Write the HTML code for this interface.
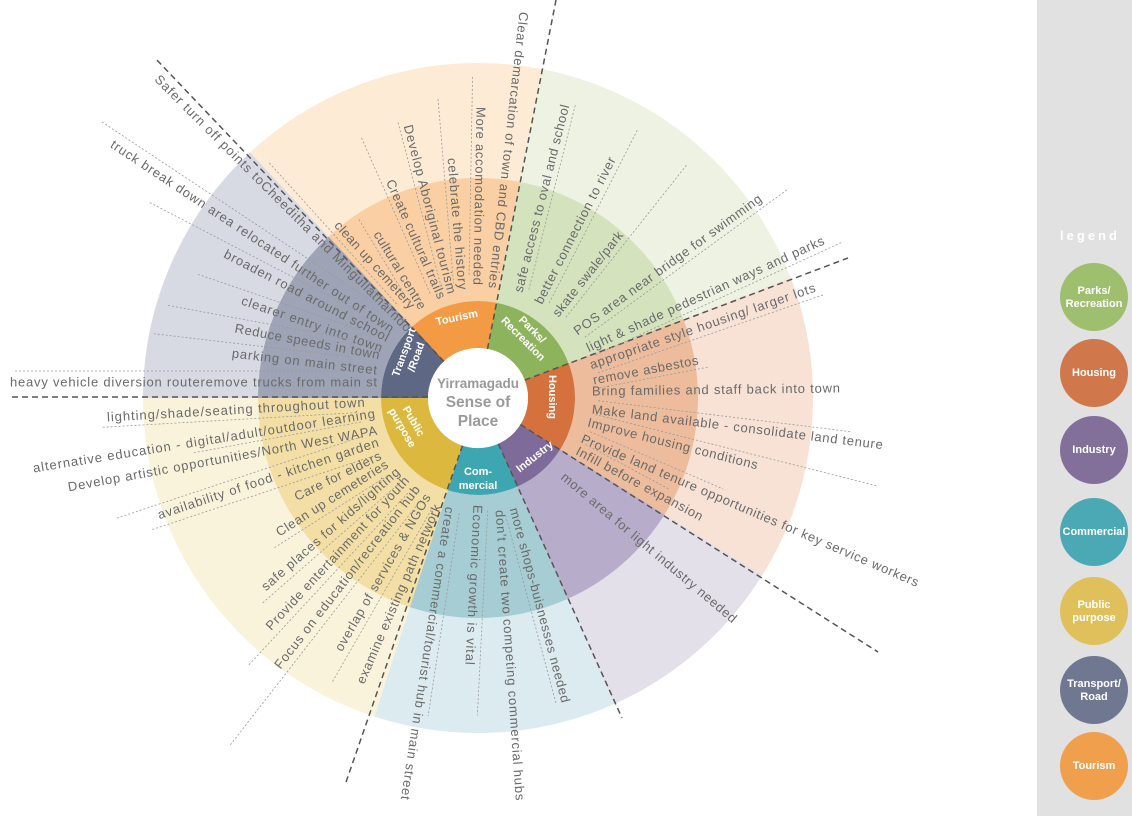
<!DOCTYPE html>
<html><head><meta charset="utf-8"><style>
html,body{margin:0;padding:0;background:#fff;}
svg{display:block;}
.t{font-family:"Liberation Sans",sans-serif;font-size:13px;fill:#6a6a6a;dominant-baseline:central;}
.c{font-family:"Liberation Sans",sans-serif;font-size:11px;font-weight:bold;fill:#fff;text-anchor:middle;dominant-baseline:central;}
.lg{font-family:"Liberation Sans",sans-serif;font-size:11px;font-weight:bold;fill:#fff;text-anchor:middle;dominant-baseline:central;}
.d{stroke:#9a9a9a;stroke-width:0.8;stroke-dasharray:2 2;fill:none;}
</style></head><body>
<svg width="1132" height="816" viewBox="0 0 1132 816" xmlns="http://www.w3.org/2000/svg">
<rect x="1037" y="0" width="95" height="816" fill="#e1e1e1"/>
<g fill="none">
<circle cx="478" cy="398" r="277.5" stroke="#fdebd6" stroke-width="115" stroke-dasharray="262 3000" transform="rotate(227 478 398)"/>
<circle cx="478" cy="398" r="277.5" stroke="#edf2e2" stroke-width="115" stroke-dasharray="281.5 3000" transform="rotate(-79 478 398)"/>
<circle cx="478" cy="398" r="277.5" stroke="#f7e2d5" stroke-width="115" stroke-dasharray="257.2 3000" transform="rotate(-21 478 398)"/>
<circle cx="478" cy="398" r="277.5" stroke="#e3e0ea" stroke-width="115" stroke-dasharray="165.2 3000" transform="rotate(32 478 398)"/>
<circle cx="478" cy="398" r="277.5" stroke="#dcebf0" stroke-width="115" stroke-dasharray="204 3000" transform="rotate(66 478 398)"/>
<circle cx="478" cy="398" r="277.5" stroke="#faf3dc" stroke-width="115" stroke-dasharray="349.2 3000" transform="rotate(108 478 398)"/>
<circle cx="478" cy="398" r="277.5" stroke="#d7dae3" stroke-width="115" stroke-dasharray="228.2 3000" transform="rotate(180 478 398)"/>
<circle cx="478" cy="398" r="158.5" stroke="#f9cfa3" stroke-width="123" stroke-dasharray="149.9 3000" transform="rotate(227 478 398)"/>
<circle cx="478" cy="398" r="158.5" stroke="#d5e2be" stroke-width="123" stroke-dasharray="161 3000" transform="rotate(-79 478 398)"/>
<circle cx="478" cy="398" r="158.5" stroke="#ecbc9d" stroke-width="123" stroke-dasharray="147.1 3000" transform="rotate(-21 478 398)"/>
<circle cx="478" cy="398" r="158.5" stroke="#b7adcb" stroke-width="123" stroke-dasharray="94.6 3000" transform="rotate(32 478 398)"/>
<circle cx="478" cy="398" r="158.5" stroke="#a6cdd3" stroke-width="123" stroke-dasharray="116.7 3000" transform="rotate(66 478 398)"/>
<circle cx="478" cy="398" r="158.5" stroke="#f3dfa5" stroke-width="123" stroke-dasharray="199.7 3000" transform="rotate(108 478 398)"/>
<circle cx="478" cy="398" r="158.5" stroke="#9ea3b6" stroke-width="123" stroke-dasharray="130.5 3000" transform="rotate(180 478 398)"/>
<circle cx="478" cy="398" r="73.5" stroke="#f39a45" stroke-width="47" stroke-dasharray="69.8 3000" transform="rotate(227 478 398)"/>
<circle cx="478" cy="398" r="73.5" stroke="#8db45c" stroke-width="47" stroke-dasharray="74.9 3000" transform="rotate(-79 478 398)"/>
<circle cx="478" cy="398" r="73.5" stroke="#d4713c" stroke-width="47" stroke-dasharray="68.5 3000" transform="rotate(-21 478 398)"/>
<circle cx="478" cy="398" r="73.5" stroke="#7e6b99" stroke-width="47" stroke-dasharray="44.1 3000" transform="rotate(32 478 398)"/>
<circle cx="478" cy="398" r="73.5" stroke="#3ea6b1" stroke-width="47" stroke-dasharray="54.4 3000" transform="rotate(66 478 398)"/>
<circle cx="478" cy="398" r="73.5" stroke="#ddb83e" stroke-width="47" stroke-dasharray="92.9 3000" transform="rotate(108 478 398)"/>
<circle cx="478" cy="398" r="73.5" stroke="#5e6784" stroke-width="47" stroke-dasharray="60.8 3000" transform="rotate(180 478 398)"/>
</g>
<circle cx="478" cy="398" r="50" fill="#fff"/>
<g stroke="#555" stroke-width="1.5" stroke-dasharray="6 4" fill="none">
<line x1="487.5" y1="349" x2="556" y2="0"/>
<line x1="524.7" y1="380.1" x2="848" y2="258"/>
<line x1="520.4" y1="424.5" x2="878" y2="652"/>
<line x1="498.3" y1="443.7" x2="622" y2="718"/>
<line x1="462.5" y1="445.6" x2="345" y2="785"/>
<line x1="428" y1="397" x2="8" y2="397"/>
<line x1="443.9" y1="361.4" x2="155" y2="58"/>
</g>
<g font-family="Liberation Sans, sans-serif" font-weight="bold" fill="#9a9a9a" text-anchor="middle">
<text x="478" y="388" font-size="13.5">Yirramagadu</text>
<text x="478" y="407" font-size="15.5">Sense of</text>
<text x="478" y="426" font-size="15.5">Place</text>
</g>
<text class="c" transform="translate(457,318) rotate(-12)">Tourism</text>
<text class="c" transform="translate(527,335) rotate(45)"><tspan x="0" dy="-7">Parks/</tspan><tspan x="0" dy="13">Recreation</tspan></text>
<text class="c" transform="translate(552,397) rotate(90)">Housing</text>
<text class="c" transform="translate(535,457) rotate(-38)">Industry</text>
<text class="c" transform="translate(478,479)"><tspan x="0" dy="-7">Com-</tspan><tspan x="0" dy="14">mercial</tspan></text>
<text class="c" transform="translate(407,425) rotate(60)"><tspan x="0" dy="-7">Public</tspan><tspan x="0" dy="13">purpose</tspan></text>
<text class="c" transform="translate(411,355) rotate(-70)"><tspan x="0" dy="-7">Transport</tspan><tspan x="0" dy="13">/Road</tspan></text>
<!-- Transport -->
<g transform="translate(157,77) rotate(45)"><text class="t" textLength="357" lengthAdjust="spacing">Safer turn off points toCheeditha and Mingullatharndo</text></g>
<g transform="translate(112,143) rotate(33.6)"><line class="d" x1="-20" y1="-12" x2="300" y2="-12"/><text class="t" textLength="337" lengthAdjust="spacing">truck break down area relocated further out of town</text></g>
<g transform="translate(225,253) rotate(27.5)"><line class="d" x1="-90" y1="-10" x2="150" y2="-10"/><text class="t" textLength="184" lengthAdjust="spacing">broaden road around school</text></g>
<g transform="translate(242,300) rotate(18.9)"><line class="d" x1="-50" y1="-10" x2="120" y2="-10"/><text class="t" textLength="148" lengthAdjust="spacing">clearer entry into town</text></g>
<g transform="translate(235,328) rotate(10.5)"><line class="d" x1="-70" y1="-10" x2="120" y2="-10"/><text class="t" textLength="147" lengthAdjust="spacing">Reduce speeds in town</text></g>
<g transform="translate(232,353) rotate(6.7)"><line class="d" x1="-80" y1="-10" x2="120" y2="-10"/><text class="t" textLength="146" lengthAdjust="spacing">parking on main street</text></g>
<g transform="translate(10,382)"><line class="d" x1="5" y1="-11" x2="340" y2="-11"/><text class="t" textLength="367" lengthAdjust="spacing">heavy vehicle diversion routeremove trucks from main st</text></g>
<!-- Tourism -->
<g transform="translate(337,223) rotate(47.9)"><line class="d" x1="-90" y1="10" x2="100" y2="10"/><text class="t" textLength="113" lengthAdjust="spacing">clean up cemetery</text></g>
<g transform="translate(377,232) rotate(58.8)"><line class="d" x1="-20" y1="9" x2="80" y2="9"/><text class="t" textLength="89" lengthAdjust="spacing">cultural centre</text></g>
<g transform="translate(390,180) rotate(66.2)"><line class="d" x1="-50" y1="9" x2="120" y2="9"/><text class="t" textLength="129" lengthAdjust="spacing">Create cultural trails</text></g>
<g transform="translate(408,125) rotate(75.3)"><line class="d" x1="-5" y1="9" x2="165" y2="9"/><text class="t" textLength="174" lengthAdjust="spacing">Develop Aboriginal tourism</text></g>
<g transform="translate(452,158) rotate(85.2)"><line class="d" x1="-60" y1="9" x2="125" y2="9"/><text class="t" textLength="132" lengthAdjust="spacing">celebrate the history</text></g>
<g transform="translate(481,107) rotate(91)"><line class="d" x1="-30" y1="9" x2="170" y2="9"/><text class="t" textLength="178" lengthAdjust="spacing">More accomodation needed</text></g>
<g transform="translate(524,12) rotate(96.4)"><text class="t" textLength="278" lengthAdjust="spacing">Clear demarcation of town and CBD entries</text></g>
<!-- Parks -->
<g transform="translate(518,292) rotate(-75.9)"><line class="d" x1="5" y1="10" x2="195" y2="10"/><text class="t" textLength="193" lengthAdjust="spacing">safe access to oval and school</text></g>
<g transform="translate(538,303) rotate(-63)"><line class="d" x1="5" y1="10" x2="200" y2="10"/><text class="t" textLength="163" lengthAdjust="spacing">better connection to river</text></g>
<g transform="translate(555,315) rotate(-51.6)"><line class="d" x1="5" y1="10" x2="200" y2="10"/><text class="t" textLength="105" lengthAdjust="spacing">skate swale/park</text></g>
<g transform="translate(575,332) rotate(-36.1)"><line class="d" x1="5" y1="10" x2="255" y2="10"/><text class="t" textLength="229" lengthAdjust="spacing">POS area near bridge for swimming</text></g>
<g transform="translate(587,348) rotate(-24.6)"><line class="d" x1="5" y1="10" x2="275" y2="10"/><text class="t" textLength="260" lengthAdjust="spacing">light &amp; shade pedestrian ways and parks</text></g>
<!-- Housing -->
<g transform="translate(590,365) rotate(-19.1)"><line class="d" x1="5" y1="10" x2="245" y2="10"/><text class="t" textLength="238" lengthAdjust="spacing">appropriate style housing/ larger lots</text></g>
<g transform="translate(593,380) rotate(-10.8)"><line class="d" x1="5" y1="9" x2="115" y2="9"/><text class="t" textLength="107" lengthAdjust="spacing">remove asbestos</text></g>
<g transform="translate(592,391) rotate(-0.7)"><text class="t" textLength="248" lengthAdjust="spacing">Bring families and staff back into town</text></g>
<g transform="translate(592,409) rotate(7)"><line class="d" x1="5" y1="-9" x2="260" y2="-9"/><text class="t" textLength="293" lengthAdjust="spacing">Make land available - consolidate land tenure</text></g>
<g transform="translate(588,422) rotate(14.2)"><line class="d" x1="5" y1="-9" x2="295" y2="-9"/><text class="t" textLength="175" lengthAdjust="spacing">Improve housing conditions</text></g>
<g transform="translate(582,438) rotate(23.3)"><line class="d" x1="5" y1="-9" x2="150" y2="-9"/><text class="t" textLength="366" lengthAdjust="spacing">Provide land tenure opportunities for key service workers</text></g>
<g transform="translate(577,450) rotate(28.2)"><line class="d" x1="5" y1="-9" x2="100" y2="-9"/><text class="t" textLength="142" lengthAdjust="spacing">Infill before expansion</text></g>
<!-- Industry -->
<g transform="translate(563,475) rotate(40.1)"><text class="t" textLength="225" lengthAdjust="spacing">more area for light industry needed</text></g>
<!-- Commercial -->
<g transform="translate(514,508) rotate(75)"><line class="d" x1="5" y1="10" x2="200" y2="10"/><text class="t" textLength="201" lengthAdjust="spacing">more shops-buisnesses needed</text></g>
<g transform="translate(500,510) rotate(86)"><text class="t" textLength="291" lengthAdjust="spacing">don't create two competing commercial hubs</text></g>
<g transform="translate(478,505) rotate(92.9)"><line class="d" x1="5" y1="-10" x2="210" y2="-10"/><text class="t" textLength="160" lengthAdjust="spacing">Economic growth is vital</text></g>
<g transform="translate(450,507) rotate(98.7)"><line class="d" x1="5" y1="-10" x2="210" y2="-10"/><text class="t" textLength="296" lengthAdjust="spacing">create a commercial/tourist hub in main street</text></g>
<!-- Public purpose -->
<g transform="translate(107,417) rotate(-3.3)"><line class="d" x1="-5" y1="10" x2="250" y2="10"/><text class="t" textLength="258" lengthAdjust="spacing">lighting/shade/seating throughout town</text></g>
<g transform="translate(33,468) rotate(-9.1)"><text class="t" textLength="346" lengthAdjust="spacing">alternative education - digital/adult/outdoor learning</text></g>
<g transform="translate(68,487) rotate(-10.4)"><line class="d" x1="130" y1="-11" x2="300" y2="-11"/><text class="t" textLength="314" lengthAdjust="spacing">Develop artistic opportunities/North West WAPA</text></g>
<g transform="translate(158,515) rotate(-18.4)"><line class="d" x1="-40" y1="-10" x2="220" y2="-10"/><line class="d" x1="-10" y1="12" x2="220" y2="12"/><text class="t" textLength="232" lengthAdjust="spacing">availability of food - kitchen garden</text></g>
<g transform="translate(295,497) rotate(-26.3)"><text class="t" textLength="95" lengthAdjust="spacing">Care for elders</text></g>
<g transform="translate(277,533) rotate(-32.5)"><line class="d" x1="-10" y1="11" x2="125" y2="11"/><text class="t" textLength="130" lengthAdjust="spacing">Clean up cemeteries</text></g>
<g transform="translate(263,588) rotate(-41.2)"><line class="d" x1="-10" y1="11" x2="170" y2="11"/><text class="t" textLength="179" lengthAdjust="spacing">safe places for kids/lighting</text></g>
<g transform="translate(268,628) rotate(-47.2)"><line class="d" x1="-40" y1="11" x2="195" y2="11"/><text class="t" textLength="204" lengthAdjust="spacing">Provide entertainment for youth</text></g>
<g transform="translate(277,667) rotate(-52.1)"><line class="d" x1="-90" y1="11" x2="220" y2="11"/><text class="t" textLength="228" lengthAdjust="spacing">Focus on education/recreation hub</text></g>
<g transform="translate(338,650) rotate(-60.1)"><line class="d" x1="-30" y1="11" x2="170" y2="11"/><text class="t" textLength="179" lengthAdjust="spacing">overlap of services &amp; NGOs</text></g>
<g transform="translate(360,683) rotate(-66.6)"><text class="t" textLength="194" lengthAdjust="spacing">examine existing path network</text></g>
<!-- legend -->
<text x="1090" y="240" font-family="Liberation Sans, sans-serif" font-size="13" font-weight="bold" fill="#fff" text-anchor="middle" letter-spacing="3">legend</text>
<circle cx="1094" cy="297" r="34" fill="#9dbf6e"/>
<text class="lg" x="1094" y="297"><tspan x="1094" dy="-6">Parks/</tspan><tspan x="1094" dy="13">Recreation</tspan></text>
<circle cx="1094" cy="373" r="34" fill="#d0784c"/>
<text class="lg" x="1094" y="373">Housing</text>
<circle cx="1094" cy="450" r="34" fill="#82709a"/>
<text class="lg" x="1094" y="450">Industry</text>
<circle cx="1094" cy="532" r="34" fill="#4ba9b5"/>
<text class="lg" x="1094" y="532" font-size="9.5">Commercial</text>
<circle cx="1094" cy="611" r="34" fill="#e0c05a"/>
<text class="lg" x="1094" y="611"><tspan x="1094" dy="-6">Public</tspan><tspan x="1094" dy="13">purpose</tspan></text>
<circle cx="1094" cy="690" r="34" fill="#707790"/>
<text class="lg" x="1094" y="690"><tspan x="1094" dy="-6">Transport/</tspan><tspan x="1094" dy="13">Road</tspan></text>
<circle cx="1094" cy="766" r="34" fill="#f0a04d"/>
<text class="lg" x="1094" y="766">Tourism</text>
</svg>
</body></html>
